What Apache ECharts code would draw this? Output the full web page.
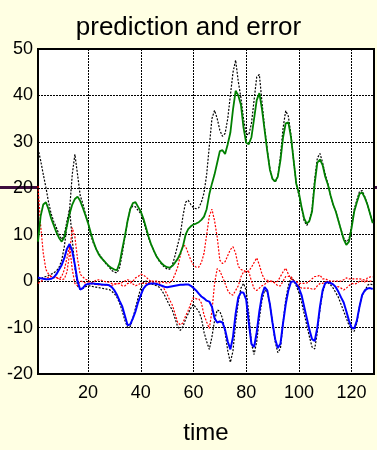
<!DOCTYPE html>
<html><head><meta charset="utf-8">
<script src="https://cdn.jsdelivr.net/npm/echarts@6/dist/echarts.min.js"></script>
<style>html,body{margin:0;padding:0;background:#FFFFE3;}#c{width:377px;height:450px;}</style>
</head><body><div id="c"></div>
<script>
const xTicks = [20, 40, 60, 80, 100, 120];
const yTicks = [-20, -10, 0, 10, 20, 30, 40, 50];
const target1 = [28.5,26,23,20.2,17,14.5,12.8,11.5,10,9,
10,13,15.5,23,27.3,23,18.5,16.7,14.5,12.5,
10,8.2,7,6,5.2,4.3,3.6,3,2.3,1.9,
1.8,3,6,9.5,13,15.5,16.2,16,15.2,14.6,
13,11,9.2,7.8,6.5,5.3,4.3,3.6,3,2.6,
2.6,3.5,5.5,7.8,10,14,17,17.4,16.5,15.8,
15.6,15.8,17,19,23,29,35,36.8,35,32.5,
31.2,31.8,35,40,45,47.6,43,39.5,35,31.7,
31.5,34,39,44,44.5,38.5,33,28.3,24.2,22,
21.3,22.5,27,33,36.7,35.5,31.5,26,21,18.5,
15.8,13,12,13,15.5,22,26.5,27.5,25.5,23,
21,18.5,16.5,15,13,11,9.3,8.5,9,12,
15.5,17.5,19.3,19.5,18.2,16.5,14.5,12.5];
const prediction1 = [8.5,14,16.5,17,15.5,13.5,12,10.5,9.3,8.5,
9.5,12,14.5,16.5,17.7,18.2,17.3,15.8,14.2,12.5,
10.5,8.6,7,5.8,5,4.4,3.8,3.2,2.8,2.5,
2.4,4,7,9.8,13,15.5,16.8,17,16,15,
13.5,11.5,9.5,7.8,6.5,5.3,4.5,3.8,3.3,3,
2.9,3.3,4,4.8,6,7.5,10,11.2,11.8,12.2,
12.4,12.7,13.2,13.9,15.5,18.7,21,23,25.5,28,
28.2,27.4,29.5,32,37,41,40,38,33,29.8,
29.5,31,35,39,40.5,37,32.5,28,24,22,
21.5,22.5,26,31,34,34.2,31,26,21,19,
16,13.5,12.4,13,15,21,25.5,26.2,25,22.5,
20.8,18.5,16.5,15,13,11,9,7.8,8.5,11.5,
15,17,18.8,19.1,18,16.5,14.5,12.5];
const error1 = [20.5,12,6,2.5,1.5,1,0.7,0.8,0.5,0.3,
0.5,2,6,11.5,9.5,4.8,1.5,0.9,0.4,0.2,
-0.4,-0.2,0.2,0.3,0.2,0,-0.2,-0.2,-0.5,-0.6,
-0.6,-0.5,-0.3,0,0.3,0.1,-0.6,-1,-0.8,-0.4,
-0.5,-0.5,-0.3,0,0,0,-0.2,-0.2,-0.3,-0.4,
-0.3,0.2,1.5,3,5.5,7.8,7.5,6,4.5,3.5,
3,3,4,6,10,14,15.5,13,9.5,4.5,
3.8,4.2,5.5,6.8,7.4,6,3.2,2.5,2.3,2,
2.2,3,4,5,3.5,1.5,0.4,0.2,0,-0.2,
-0.3,0,1,2,2.8,1.5,0.5,0,0,-0.5,
-0.5,-0.5,-0.4,0,0.5,1,1,1.3,0.5,0.5,
0.2,0,0,0,0,0,0.3,0.7,0.5,0.5,
0.5,0.5,0.5,0.4,0.2,0,0,0];
const target2 = [0.3,0.5,0.8,1,1.2,1.5,1.8,2.2,3,4.5,
7.5,12,15.5,9,3,-1,-1.8,-1.6,-1.2,-1,
-1,-1.2,-1.3,-1.4,-1.5,-1.6,-1.7,-1.8,-2.2,-2.7,
-3.5,-4.8,-6.5,-8.5,-10,-9.8,-8,-5.8,-3.5,-1.5,
-0.3,0,-0.3,-0.6,-0.8,-1,-1.3,-2,-3,-4.2,
-5.3,-6.3,-8,-9.8,-10.6,-9.8,-8.2,-7,-5.8,-5,
-5.8,-6.5,-8,-11,-13,-14.7,-12,-8.5,-6.2,-6.5,
-8,-11,-15,-17.5,-15,-9,-4.5,-1.5,-0.5,-2,
-7,-13.5,-15.8,-13,-8,-4,-2,-2.2,-5,-9,
-13,-15.4,-14.5,-9,-4,-1,0.8,0.2,-1,-2.5,
-4.5,-7,-9.5,-12,-14.2,-14.6,-11,-6,-2.5,-0.5,
-0.3,-0.8,-1.5,-2.5,-3.5,-5,-6.5,-8,-9.5,-10.5,
-10.8,-9,-5.5,-3,-2.2,-0.9,-0.6,-0.8];
const prediction2 = [0.8,0.6,0.5,0.4,0.4,0.5,0.8,1.5,2.5,3.5,
5,7,8,6.5,3.5,0,-1.8,-1.5,-0.8,-0.6,
-0.5,-0.5,-0.6,-0.6,-0.7,-0.8,-0.8,-0.9,-1.3,-2,
-3,-4.3,-5.5,-7.5,-9.5,-9.3,-8,-6.5,-4.5,-3,
-1.6,-0.9,-0.6,-0.5,-0.5,-0.6,-0.8,-1,-1.2,-1.3,
-1.2,-1.1,-1,-0.9,-0.8,-0.8,-0.7,-0.7,-1,-1.5,
-2,-2.7,-3.3,-3.7,-4.2,-4.4,-5.5,-8,-8.9,-8.7,
-8.9,-10.5,-13,-14.7,-12,-7,-3.5,-2.4,-2.5,-4,
-9,-13.5,-14.2,-11,-6.5,-3,-1.3,-2,-5,-9,
-12.5,-14.4,-13.5,-9,-5,-2,-0.2,0,-0.6,-1.5,
-3,-5.5,-8,-10.5,-12.5,-12.9,-10,-5.5,-2,-0.4,
-0.2,-0.4,-0.7,-1.3,-2.3,-3.5,-4.6,-6.5,-8.5,-10,
-10.2,-8.5,-5.5,-3,-2,-1.6,-1.5,-1.7];
const error2 = [-0.5,-0.1,0.3,0.6,0.8,1,1,0.7,0.5,1,
2.5,5,7.5,2.5,-0.5,-1,0,-0.1,-0.4,-0.4,
-0.5,-0.7,-0.7,-0.8,-0.8,-0.8,-0.9,-0.9,-0.9,-0.7,
-0.5,-0.5,-1,-1,-0.5,-0.5,0,0.7,1,1.5,
1.3,0.9,0.3,-0.1,-0.3,-0.4,-0.5,-1,-1.8,-2.9,
-4.1,-5.2,-7,-8.9,-9.4,-9,-7.5,-6.3,-4.8,-3.5,
-3.8,-3.8,-4.7,-7.3,-8.8,-10.2,-6.5,-0.5,2.7,2.2,
0.9,-0.5,-2,-2.8,-3,-2,-1,0.9,2,2,
2,0,-1.6,-2,-1.5,-1,-0.7,-0.2,0,0,
-0.5,-1,-1,0,1,1,1,0.2,-0.4,-1,
-1.5,-1.5,-1.5,-1.5,-1.7,-1.7,-1,-0.5,-0.5,-0.1,
-0.1,-0.4,-0.8,-1.2,-1.2,-1.5,-1.9,-1.5,-1,-0.5,
-0.6,-0.5,0,0,-0.2,0.7,0.9,0.9];

const time = target1.map((_, i) => i + 1);
const pairs = arr => arr.map((v, i) => [time[i], v]);
const FONT = 'Liberation Sans';

const chart = echarts.init(document.getElementById('c'), null, {renderer: 'canvas'});
function mk(name, data, color, width, type, z) {
  return {name, type: 'line', data: pairs(data), showSymbol: false, symbol: 'none',
    lineStyle: {color, width, type}, z, animation: false, silent: true};
}
chart.setOption({
  backgroundColor: '#FFFFE3',
  animation: false,
  title: {text: 'prediction and error', left: 'center', top: 10,
    textStyle: {fontFamily: FONT, fontSize: 26, fontWeight: 'normal', color: '#000'}},
  graphic: [
    {type: 'rect', shape: {x: 0, y: 186, width: 38, height: 3}, style: {fill: '#3d0d3d'}, z: -1},
    {type: 'rect', shape: {x: 375, y: 186, width: 2, height: 3}, style: {fill: '#3d0d3d'}, z: -1}
  ],
  grid: {left: 38, right: 3, top: 49, bottom: 63, show: true, backgroundColor: '#fff',
    borderColor: '#000', borderWidth: 2},
  xAxis: {type: 'value', min: 1, max: 128.5, name: 'time', nameLocation: 'middle', nameGap: 47,
    nameTextStyle: {fontFamily: FONT, fontSize: 24, color: '#000'},
    axisLine: {show: false}, axisTick: {show: false, customValues: xTicks},
    axisLabel: {customValues: xTicks, fontFamily: FONT, fontSize: 18, color: '#000', margin: 10},
    splitLine: {show: true, lineStyle: {color: '#000', type: [2, 1], width: 1}}},
  yAxis: {type: 'value', min: -20, max: 50, interval: 10,
    axisLine: {show: false}, axisTick: {show: false},
    axisLabel: {fontFamily: FONT, fontSize: 18, color: '#000', margin: 5},
    splitLine: {show: true, lineStyle: {color: '#000', type: [2, 1], width: 1}}},
  series: [
    mk('target 1', target1, '#000', 1.2, [2, 1.5], 2),
    mk('target 2', target2, '#000', 1.2, [2, 1.5], 2),
    mk('error 1', error1, '#ff0000', 1.2, [2, 1.5], 3),
    mk('error 2', error2, '#ff0000', 1.2, [2, 1.5], 3),
    mk('prediction 1', prediction1, '#008000', 1.8, 'solid', 4),
    mk('prediction 2', prediction2, '#0000ff', 2, 'solid', 4)
  ]
});
</script></body></html>
